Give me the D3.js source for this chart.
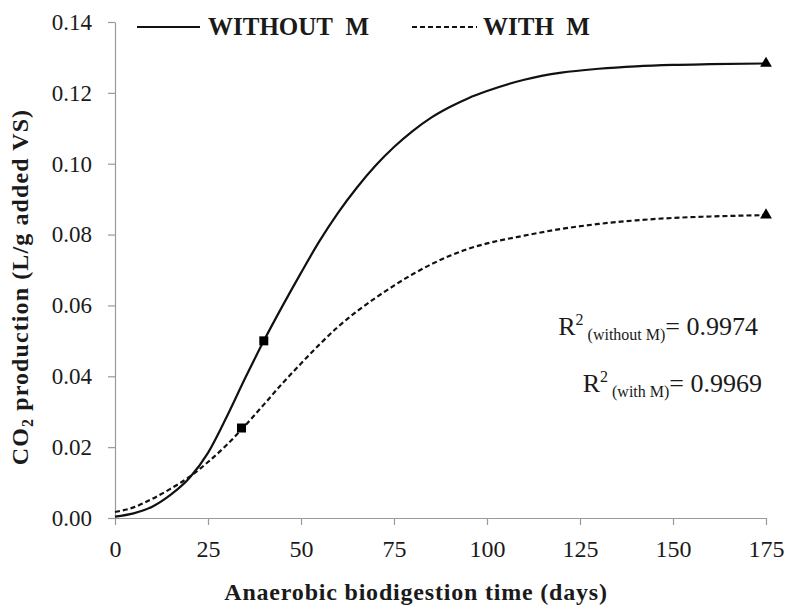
<!DOCTYPE html>
<html>
<head>
<meta charset="utf-8">
<script src="https://cdn.jsdelivr.net/npm/d3@7"></script>
<style>
  body { margin: 0; background: #fff; }
</style>
</head>
<body>
<svg id="chart"></svg>
<script>
// данные
const days = [0, 5, 10, 15, 20, 25, 30, 35, 40, 45, 50, 55, 60, 65, 70, 75, 80, 85, 90, 95, 100, 110, 120, 130, 140, 150, 160, 175];
const withoutM = [0.0004, 0.0013, 0.0032, 0.0066, 0.0113, 0.0184, 0.0285, 0.0395, 0.0500, 0.0598, 0.0692, 0.0782, 0.0862, 0.0932, 0.0994, 0.1047, 0.1092, 0.1130, 0.1160, 0.1185, 0.1205, 0.1237, 0.1257, 0.1268, 0.1275, 0.1279, 0.1281, 0.1283];
const withM = [0.0017, 0.0030, 0.0054, 0.0083, 0.0116, 0.0158, 0.0206, 0.0261, 0.0320, 0.0380, 0.0436, 0.0490, 0.0540, 0.0583, 0.0621, 0.0656, 0.0688, 0.0716, 0.0740, 0.0760, 0.0775, 0.0797, 0.0816, 0.0830, 0.0840, 0.0847, 0.0851, 0.0855];

// отмеченные точки
const squares = [{ x: 40, y: 0.050 }, { x: 34, y: 0.0254 }];
const triangles = [{ x: 175, y: 0.1283 }, { x: 175, y: 0.0855 }];

const xTicks = [0, 25, 50, 75, 100, 125, 150, 175];
const yTicks = [0, 0.02, 0.04, 0.06, 0.08, 0.10, 0.12, 0.14];

const width = 790;
const height = 605;
const serif = "Liberation Serif";
const textColor = "#1a1a1a";
const axisColor = "#9a9a9a";

let svg = d3.select("#chart")
    .attr("width", width)
    .attr("height", height);

// шкалы
let scaleX = d3.scaleLinear().domain([0, 175]).range([115, 766]);
let scaleY = d3.scaleLinear().domain([0, 0.14]).range([518, 22]);

// ось X
let axisX = d3.axisBottom(scaleX).tickValues(xTicks).tickSize(7).tickSizeOuter(0).tickPadding(15);
let gx = svg.append("g")
    .attr("transform", `translate(0, ${scaleY(0)})`)
    .call(axisX)
    .attr("font-family", serif)
    .attr("font-size", 24);
gx.select(".domain").attr("stroke", axisColor).attr("stroke-width", 1.2);
gx.selectAll(".tick line").attr("stroke", axisColor).attr("stroke-width", 1.2);
gx.selectAll(".tick text").attr("fill", textColor);

// ось Y
let axisY = d3.axisLeft(scaleY).tickValues(yTicks).tickSize(7).tickSizeOuter(0).tickPadding(16)
    .tickFormat(d3.format(".2f"));
let gy = svg.append("g")
    .attr("transform", `translate(${scaleX(0)}, 0)`)
    .call(axisY)
    .attr("font-family", serif)
    .attr("font-size", 23);
gy.select(".domain").attr("stroke", axisColor).attr("stroke-width", 1.2);
gy.selectAll(".tick line").attr("stroke", axisColor).attr("stroke-width", 1.2);
gy.selectAll(".tick text").attr("fill", textColor);

// подписи осей
svg.append("text")
    .attr("x", 416)
    .attr("y", 600)
    .attr("text-anchor", "middle")
    .attr("font-family", serif)
    .attr("font-size", 24)
    .attr("font-weight", "bold")
    .attr("letter-spacing", 0.8)
    .attr("fill", textColor)
    .text("Anaerobic biodigestion time (days)");

let yTitle = svg.append("text")
    .attr("transform", "translate(28, 287) rotate(-90)")
    .attr("text-anchor", "middle")
    .attr("font-family", serif)
    .attr("font-size", 24)
    .attr("font-weight", "bold")
    .attr("letter-spacing", 1.1)
    .attr("fill", textColor);
yTitle.append("tspan").text("CO");
yTitle.append("tspan").attr("font-size", 16).attr("dy", 5).text("2");
yTitle.append("tspan").attr("dy", -5).text(" production (L/g added VS)");

// линии
let line = d3.line()
    .x(d => scaleX(d[0]))
    .y(d => scaleY(d[1]))
    .curve(d3.curveMonotoneX);

svg.append("path")
    .datum(days.map((d, i) => [d, withoutM[i]]))
    .attr("fill", "none")
    .attr("stroke", "#111")
    .attr("stroke-width", 2.2)
    .attr("d", line);

svg.append("path")
    .datum(days.map((d, i) => [d, withM[i]]))
    .attr("fill", "none")
    .attr("stroke", "#111")
    .attr("stroke-width", 2.2)
    .attr("stroke-dasharray", "5,3")
    .attr("d", line);

// маркеры
svg.selectAll(".sq")
    .data(squares)
    .enter()
    .append("rect")
    .attr("x", d => scaleX(d.x) - 4.5)
    .attr("y", d => scaleY(d.y) - 4.5)
    .attr("width", 9)
    .attr("height", 9)
    .attr("fill", "#000");

svg.selectAll(".tri")
    .data(triangles)
    .enter()
    .append("path")
    .attr("transform", d => `translate(${scaleX(d.x)}, ${scaleY(d.y)})`)
    .attr("d", d3.symbol(d3.symbolTriangle, 60))
    .attr("fill", "#000");

// легенда
svg.append("line")
    .attr("x1", 137).attr("x2", 200)
    .attr("y1", 27).attr("y2", 27)
    .attr("stroke", "#111").attr("stroke-width", 2.2);
svg.append("text")
    .attr("x", 208).attr("y", 35)
    .attr("font-family", serif)
    .attr("font-size", 25).attr("font-weight", "bold")
    .attr("fill", textColor)
    .text("WITHOUT\u00a0\u00a0M");

svg.append("line")
    .attr("x1", 412).attr("x2", 477)
    .attr("y1", 27).attr("y2", 27)
    .attr("stroke", "#111").attr("stroke-width", 2.2)
    .attr("stroke-dasharray", "5,3");
svg.append("text")
    .attr("x", 483).attr("y", 35)
    .attr("font-family", serif)
    .attr("font-size", 25).attr("font-weight", "bold")
    .attr("fill", textColor)
    .text("WITH\u00a0\u00a0M");

// коэффициенты детерминации
function r2Label(x, y, sub, value) {
    let t = svg.append("text")
        .attr("x", x).attr("y", y)
        .attr("text-anchor", "end")
        .attr("font-family", serif)
        .attr("font-size", 26)
        .attr("fill", textColor);
    t.append("tspan").text("R");
    t.append("tspan").attr("font-size", 16).attr("dy", -10).text("2");
    t.append("tspan").attr("font-size", 16).attr("dy", 15).text("\u00a0(" + sub + ")");
    t.append("tspan").attr("dy", -5).text("= " + value);
}
r2Label(758, 335, "without M", "0.9974");
r2Label(762, 392, "with M", "0.9969");
</script>
</body>
</html>
